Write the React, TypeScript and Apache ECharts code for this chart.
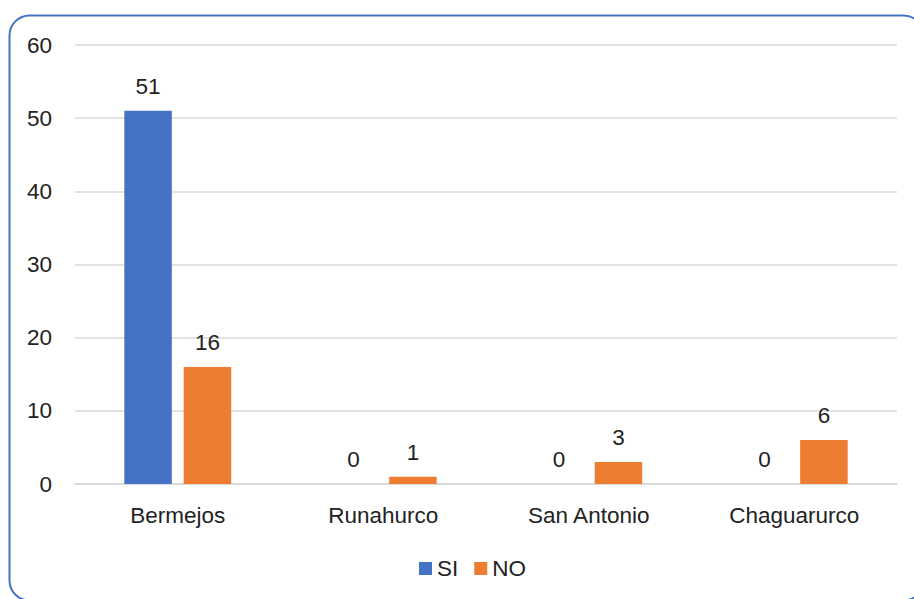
import React, { useEffect, useRef } from "react";
import * as echarts from "echarts";

const categories = ["Bermejos", "Runahurco", "San Antonio", "Chaguarurco"];
const siValues = [51, 0, 0, 0];
const noValues = [16, 1, 3, 6];
const seriesNames = ["SI", "NO"];

const FONT = "'Liberation Sans', Arial, Helvetica, sans-serif";
const TEXT = "#222222";
const FS = 22.5;

export default function App() {
  const ref = useRef<HTMLDivElement>(null);
  useEffect(() => {
    if (!ref.current) return;
    const chart = echarts.init(ref.current, null, { renderer: "svg" });
    const label = {
      show: true,
      position: "top",
      distance: 13,
      color: TEXT,
      fontSize: FS,
      fontFamily: FONT,
    };
    chart.setOption({
      animation: false,
      backgroundColor: "#ffffff",
      textStyle: { fontFamily: FONT },
      graphic: [
        {
          type: "rect",
          shape: { x: 9.5, y: 15.5, width: 914, height: 585, r: 20 },
          style: { fill: "none", stroke: "#4472C4", lineWidth: 2 },
          silent: true,
          z: 100,
        },
      ],
      grid: { left: 75, right: 17, top: 45, bottom: 115, containLabel: false },
      legend: {
        data: seriesNames,
        left: 419,
        top: 557,
        padding: 0,
        itemWidth: 13,
        itemHeight: 13,
        itemGap: 16,
        icon: "rect",
        textStyle: { color: TEXT, fontSize: FS, fontFamily: FONT },
      },
      xAxis: {
        type: "category",
        data: categories,
        axisTick: { show: false },
        axisLine: { show: true, lineStyle: { color: "#d9d9d9", width: 1.5 } },
        axisLabel: { color: TEXT, fontSize: FS, fontFamily: FONT, margin: 20 },
      },
      yAxis: {
        type: "value",
        min: 0,
        max: 60,
        interval: 10,
        axisLine: { show: false },
        axisTick: { show: false },
        splitLine: { lineStyle: { color: "#d9d9d9", width: 1.5 } },
        axisLabel: { color: TEXT, fontSize: FS, fontFamily: FONT, margin: 23 },
      },
      series: [
        {
          name: seriesNames[0],
          type: "bar",
          data: siValues,
          itemStyle: { color: "#4472C4" },
          barGap: "25%",
          barCategoryGap: "48%",
          label,
        },
        {
          name: seriesNames[1],
          type: "bar",
          data: noValues,
          itemStyle: { color: "#ED7D31" },
          barGap: "25%",
          barCategoryGap: "48%",
          label,
        },
      ],
    });
    return () => chart.dispose();
  }, []);
  return (
    <div
      ref={ref}
      style={{ position: "fixed", left: 0, top: 0, width: 914, height: 599, background: "#fff" }}
    />
  );
}
